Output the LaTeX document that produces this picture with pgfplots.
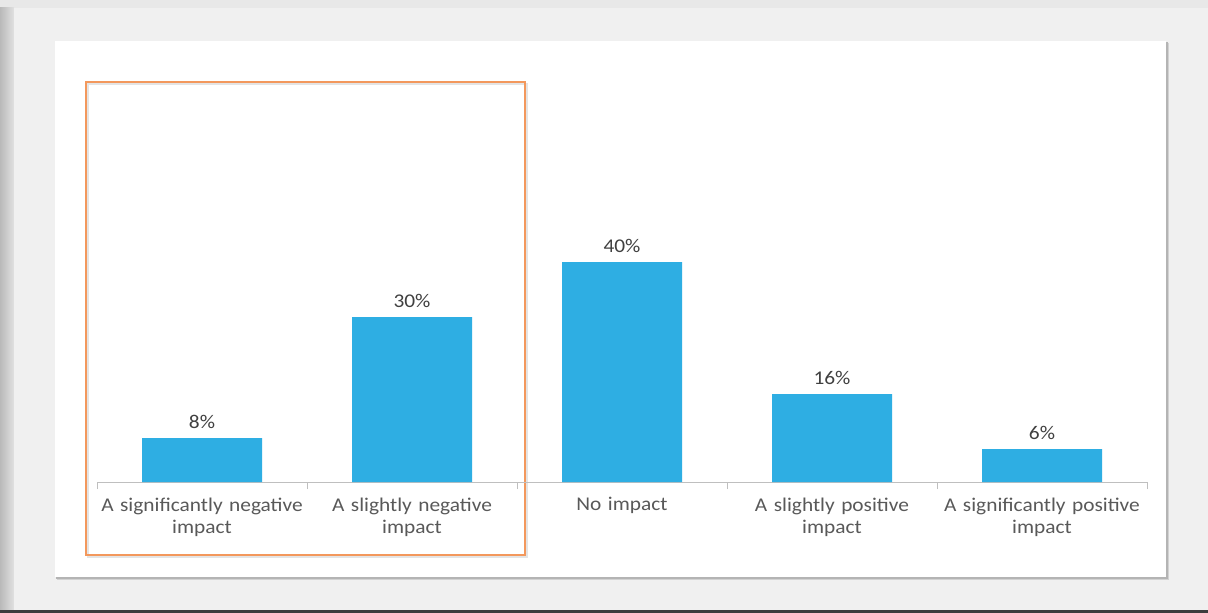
\documentclass[border=0pt]{standalone}
\usepackage{pgfplots}
\pgfplotsset{compat=1.18}
\usepackage{fontspec}
\setmainfont{Carlito}[FakeStretch=1.1]
\definecolor{barblue}{RGB}{46,174,227}
\definecolor{lblgray}{RGB}{89,89,89}
\definecolor{numgray}{RGB}{64,64,64}
\definecolor{axgray}{RGB}{191,191,191}
\definecolor{hlorange}{RGB}{243,152,92}
\definecolor{outerbg}{RGB}{240,240,240}
\definecolor{basebg}{RGB}{232,232,232}
\definecolor{shadowL}{RGB}{185,185,185}
\definecolor{shadowR}{RGB}{225,225,225}
\definecolor{darkstrip}{RGB}{60,60,60}
\definecolor{shadowA}{RGB}{210,210,210}
\definecolor{shadowB}{RGB}{180,180,180}
\definecolor{shadowO}{RGB}{228,228,228}
\begin{document}
\begin{tikzpicture}
\begin{scope}[x=1bp,y=-1bp]
\useasboundingbox (0,0) rectangle (1208,613);
\fill[basebg] (0,0) rectangle (1208,613);
\shade[left color=shadowL, right color=shadowR] (0,8) rectangle (14,613);
\fill[outerbg] (14,8) rectangle (1208,610);
\fill[darkstrip] (0,610) rectangle (1208,613);
% white panel with shadow
\fill[shadowA] (57,43) rectangle (1169,580);
\fill[shadowB] (56,42) rectangle (1168,579);
\fill[white] (55,41) rectangle (1166,577);
% orange highlight
\draw[shadowO, line width=2bp] (88,84) rectangle (527,557);
\draw[hlorange, line width=2.2bp] (86,82) rectangle (525,555);
\end{scope}
\begin{axis}[
  at={(97bp,-482bp)}, anchor=south west,
  scale only axis, width=1050bp, height=330bp,
  xmin=-0.5, xmax=4.5, ymin=0, ymax=60,
  axis x line*=bottom, axis y line=none,
  axis line style={axgray, line width=1bp, -},
  ytick=\empty,
  xtick={0,1,2,3,4},
  xticklabels={{A significantly negative\\impact},{A slightly negative\\impact},{No impact},{A slightly positive\\impact},{A significantly positive\\impact}},
  major tick length=0pt,
  minor xtick={-0.5,0.5,1.5,2.5,3.5,4.5},
  minor tick length=7bp,
  xtick align=outside,
  minor tick style={axgray, line width=1bp},
  x tick label style={font=\fontsize{19.5}{22.5}\selectfont, text=lblgray, align=center, text width=220bp, anchor=north, yshift=-12bp},
  /pgf/number format/assume math mode=true,
  ybar, bar width=120bp,
  nodes near coords={\pgfmathprintnumber{\pgfplotspointmeta}\%},
  nodes near coords style={font=\fontsize{19.5}{22}\selectfont, text=numgray, anchor=south, yshift=6bp},
  clip=false,
]
\addplot[fill=barblue, draw=none] coordinates {(0,8) (1,30) (2,40) (3,16) (4,6)};
\end{axis}
\end{tikzpicture}
\end{document}
